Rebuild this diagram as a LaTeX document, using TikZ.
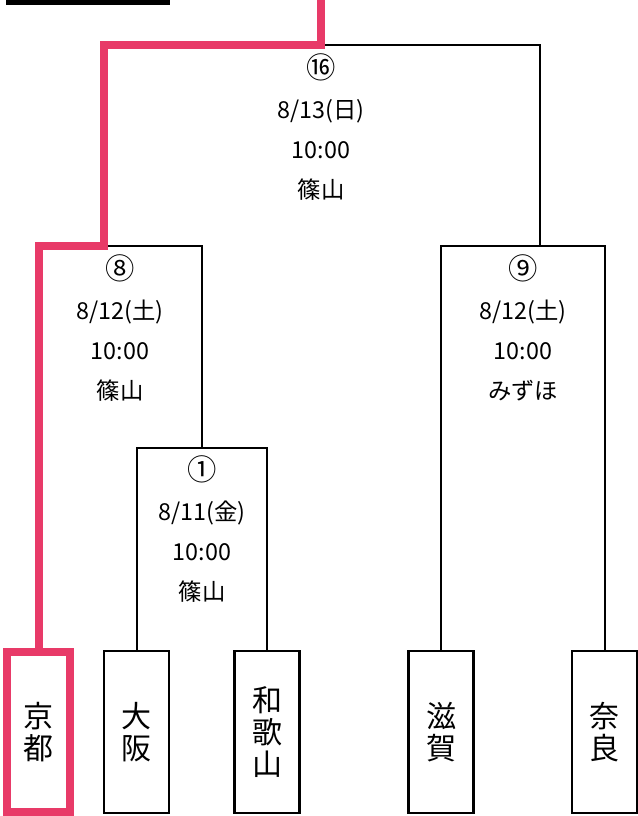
\documentclass[tikz,border=0pt]{standalone}
\usepackage{amsmath}
\usepackage{xcolor}
\usepackage{fontspec}
\setmainfont{Noto Sans CJK JP}
\usepackage{tikz}
\definecolor{winred}{RGB}{232,58,104}
\newcommand{\matchno}[1]{{\fontsize{22}{30}\selectfont #1}}

\begin{document}
\begin{tikzpicture}[x=0.75pt,y=-0.75pt,
		team/.style={draw,line width=1.6pt,minimum width=48.75pt,minimum height=121.5pt,inner sep=0pt,align=center,font=\fontsize{22.5}{24}\selectfont},
		info/.style={align=center,inner sep=0pt,font=\fontsize{17.5}{30}\selectfont},
		line/.style={line width=1.5pt},
		win/.style={winred,line width=6pt}]
			\useasboundingbox (0,0) rectangle (637,816);
			\fill (6,0) rectangle (170,5);
			% Vẽ các đội
			\node[team] (kyoto) at (38.5,732) {京\\都};
			\node[team] (osaka) at (136.5,732) {大\\阪};
			\node[team] (wakayama) at (267,732) {和\\歌\\山};
			\node[team] (shiga) at (441,732) {滋\\賀};
			\node[team] (nara) at (604.5,732) {奈\\良};
			% Vẽ các trận
			\coordinate (m1) at (202,448);
			\coordinate (m8) at (104,246);
			\coordinate (m9) at (540,246);
			\coordinate (m16) at (321,45);
			\coordinate (top) at (321,0);
			\draw[line] (osaka.north) |- (m1) -| (wakayama.north);
			\draw[line] (kyoto.north) |- (m8) -| (m1);
			\draw[line] (shiga.north) |- (m9) -| (nara.north);
			\draw[line] (m8) |- (m16) -| (m9);
			\node[info] (t16) at (321,127.5) {\matchno{⑯}\\8/13(日)\\10:00\\篠山};
			\node[info] (t8) at (120,328) {\matchno{⑧}\\8/12(土)\\10:00\\篠山};
			\node[info] (t9) at (523,328) {\matchno{⑨}\\8/12(土)\\10:00\\みずほ};
			\node[info] (t1) at (202,529) {\matchno{①}\\8/11(金)\\10:00\\篠山};
			% Đường thắng
			\draw[win] (kyoto.north) |- (m8) |- (m16) -- (top);
			\draw[win] ([xshift=1.5pt,yshift=-1.5pt]kyoto.north west) rectangle ([xshift=-1.5pt,yshift=1.5pt]kyoto.south east);
\end{tikzpicture}
\end{document}
